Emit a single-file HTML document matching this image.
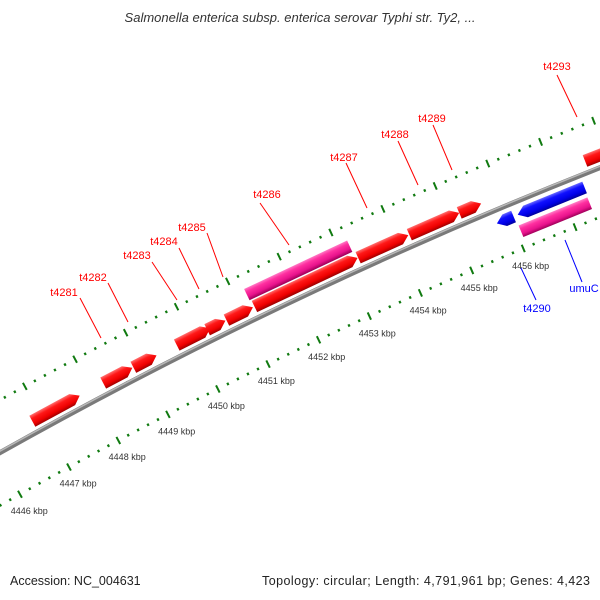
<!DOCTYPE html>
<html><head><meta charset="utf-8"><style>
html,body{margin:0;padding:0;background:#fff;width:600px;height:600px;overflow:hidden;}
svg{display:block;font-family:"Liberation Sans","DejaVu Sans",sans-serif;}
</style></head><body>
<svg id="chart" width="600" height="600" viewBox="0 0 600 600" xmlns="http://www.w3.org/2000/svg">
<defs id="defs"></defs>
<rect x="0" y="0" width="600" height="600" fill="#fff"/>
<text x="300" y="22" text-anchor="middle" font-size="13" font-style="italic" fill="#333">Salmonella enterica subsp. enterica serovar Typhi str. Ty2, ...</text>
<g id="rings"></g>
<circle cx="2393" cy="4716" r="4889" fill="none" stroke="#7a7a7a" stroke-width="5"/>
<circle cx="2393" cy="4716" r="4890.3" fill="none" stroke="#b8b8b8" stroke-width="1.5"/>
<g id="features"></g>
<g id="labels"></g>
<text x="10" y="585" font-size="12.5" fill="#222">Accession: NC_004631</text>
<text x="590" y="585" font-size="12.5" fill="#222" text-anchor="end" textLength="328">Topology: circular; Length: 4,791,961 bp; Genes: 4,423</text>
</svg>
<script>
// ---- data ----
const featStarts = [4446820, 4448240, 4448840, 4449700, 4450300, 4450680, 4451230, 4453250, 4454240, 4455200, 4457600, 4451200, 4455740, 4456140, 4456080];
const featEnds   = [4447770, 4448820, 4449300, 4450360, 4450660, 4451200, 4453240, 4454220, 4455200, 4455620, 4458600, 4453200, 4456060, 4457420, 4457400];
const featStrand = [1,1,1,1,1,1,1,1,1,1,1,1,-1,-1,-1];
const featRow    = [1,1,1,1,1,1,1,1,1,1,1,2,1,1,2];
const featType   = ['cds','cds','cds','cds','cds','cds','cds','cds','cds','cds','cds','gene','cds','cds','gene'];
const tickKbp = [4446,4447,4448,4449,4450,4451,4452,4453,4454,4455,4456];
const labelTexts = ['t4281','t4282','t4283','t4284','t4285','t4286','t4287','t4288','t4289','t4293','t4290','umuC'];
const labelColor = ['r','r','r','r','r','r','r','r','r','r','b','b'];
// label layout (screen positions for text and leader line)
const labelX = [64,93,137,164,192,267,344,395,432,557,537,584];
const labelY = [296,281,259,245,231,198,161,138,122,70,312,292];
const lineX1 = [80,108,152,179,207,260,346,398,433,557,521,565];
const lineY1 = [298,283,262,248,233,203,163,141,125,75,268,240];
const lineX2 = [101,128,177,199,223,289,367,418,452,577,536,582];
const lineY2 = [338,322,300,289,277,245,208,185,170,117,300,282];

// ---- axis functions ----
const CX = 2393, CY = 4716;
const R_INNER = 4843, R_OUTER = 4935, R_BB = 4889;
function ang(bp){ return (-119.34 + (bp - 4446000) / 1000 * 0.663) * Math.PI / 180; }
function pt(bp, r){ const a = ang(bp); return [CX + r * Math.cos(a), CY + r * Math.sin(a)]; }
const NS = 'http://www.w3.org/2000/svg';
function mk(tag, attrs, parent){ const e = document.createElementNS(NS, tag); for (const k in attrs) e.setAttribute(k, attrs[k]); parent.appendChild(e); return e; }

// ---- rings ----
const rings = document.getElementById('rings');
[R_INNER, R_OUTER].forEach((r, ri) => {
  for (let bp = 4444000; bp <= 4459000; bp += 200) {
    const major = bp % 1000 === 0;
    const half = major ? 4 : 1.3;
    const p1 = pt(bp, r - half), p2 = pt(bp, r + half);
    const l = mk('line', {x1:p1[0].toFixed(2), y1:p1[1].toFixed(2), x2:p2[0].toFixed(2), y2:p2[1].toFixed(2), stroke:'#107a10', 'stroke-width': major ? 2 : 2.2}, rings);
    
    
  }
});
tickKbp.forEach(k => {
  const p = pt(k * 1000, R_INNER - 19);
  const t = mk('text', {x:p[0].toFixed(1), y:(p[1] + 3).toFixed(1), 'text-anchor':'middle', 'font-size':'9', fill:'#333'}, rings);
  t.textContent = k + ' kbp';
  
  
});

// ---- features ----
const defs = document.getElementById('defs');
const feats = document.getElementById('features');
const palettes = {
  cds1: ['#ff7070','#ff1818','#ee0000','#a00000'],
  cdsm1: ['#6a6aff','#1010ff','#0000e6','#00009a'],
  gene: ['#ff80c8','#ff30a0','#e8128c','#a0005a']
};
const H = 150; // arrow head length in bp
featStarts.forEach((s, i) => {
  const e = featEnds[i], st = featStrand[i], row = featRow[i];
  let r1, r2;
  if (st > 0) { r1 = row === 1 ? R_BB + 5.5 : R_BB + 19.5; r2 = r1 + 12.5; }
  else { r2 = row === 1 ? R_BB - 6.5 : R_BB - 23; r1 = r2 - 12.5; }
  const pal = featType[i] === 'gene' ? palettes.gene : (st > 0 ? palettes.cds1 : palettes.cdsm1);
  let pts;
  const rm = (r1 + r2) / 2;
  if (featType[i] === 'gene') {
    pts = [pt(s, r1), pt(e, r1), pt(e, r2), pt(s, r2)];
  } else if (st > 0) {
    const h = Math.min(H, (e - s) * 0.5);
    pts = [pt(s, r1), pt(e - h, r1), pt(e, rm), pt(e - h, r2), pt(s, r2)];
  } else {
    const h = Math.min(H, (e - s) * 0.5);
    pts = [pt(s, rm), pt(s + h, r1), pt(e, r1), pt(e, r2), pt(s + h, r2)];
  }
  const mid = (s + e) / 2;
  const top = pt(mid, r2), bot = pt(mid, r1);
  const g = mk('linearGradient', {id:'g' + i, gradientUnits:'userSpaceOnUse', x1:top[0], y1:top[1], x2:bot[0], y2:bot[1]}, defs);
  [[0,pal[0]],[0.3,pal[1]],[0.72,pal[2]],[1,pal[3]]].forEach(sp => mk('stop', {offset:sp[0], 'stop-color':sp[1]}, g));
  const poly = mk('polygon', {points: pts.map(p => p[0].toFixed(2) + ',' + p[1].toFixed(2)).join(' '), fill:'url(#g' + i + ')'}, feats);
  
  
});

// ---- labels ----
const labels = document.getElementById('labels');
labelTexts.forEach((txt, i) => {
  const col = labelColor[i] === 'r' ? '#ff0000' : '#0000ff';
  const l = mk('line', {x1:lineX1[i], y1:lineY1[i], x2:lineX2[i], y2:lineY2[i], stroke:col, 'stroke-width':1}, labels);
  
  
  const t = mk('text', {x:labelX[i], y:labelY[i], 'text-anchor':'middle', 'font-size':'11', fill:col}, labels);
  t.textContent = txt;
  
  
});
</script>
</body></html>
